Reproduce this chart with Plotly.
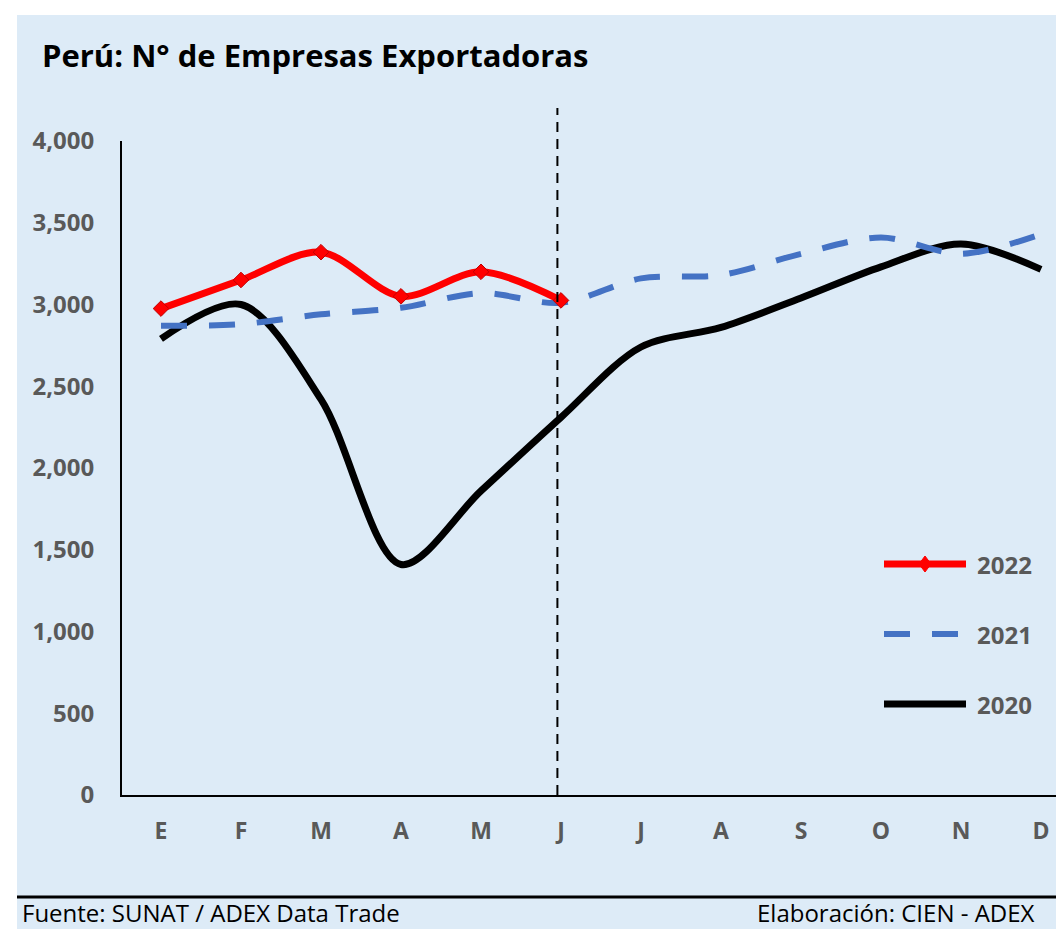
import plotly.graph_objects as go

# Datos: N° de empresas exportadoras por mes
meses = ["E", "F", "M", "A", "M", "J", "J", "A", "S", "O", "N", "D"]
v2022 = [2975, 3150, 3320, 3050, 3200, 3025]
v2021 = [2870, 2880, 2940, 2980, 3070, 3010, 3160, 3180, 3310, 3410, 3310, 3430]
v2020 = [2790, 3000, 2420, 1410, 1860, 2310, 2740, 2860, 3040, 3230, 3370, 3215]

OFF = 8  # margen del body de la página
W, H = 1064 - OFF, 937 - 2 * OFF
AZUL_FONDO = "#DDEBF7"
GRIS = "#595959"
FUENTE = "Open Sans"


def px(x):
    # coordenada de pantalla -> papel
    return (x - OFF) / W


def py(y):
    return 1 - (y - OFF) / H


xi = list(range(len(meses)))

fig = go.Figure()

fig.add_trace(go.Scatter(
    x=xi, y=v2020, mode="lines", name="2020",
    line=dict(color="black", width=7, shape="spline", smoothing=0.9),
))
fig.add_trace(go.Scatter(
    x=xi, y=v2021, mode="lines", name="2021",
    line=dict(color="#4472C4", width=6, dash="26px,22px", shape="spline", smoothing=0.9),
))
fig.add_trace(go.Scatter(
    x=xi[:len(v2022)], y=v2022, mode="lines+markers", name="2022",
    line=dict(color="#FF0000", width=7, shape="spline", smoothing=0.9),
    marker=dict(symbol="diamond", size=12, color="#FF0000", line=dict(color="#C00000", width=1)),
))

# mes de corte (último dato 2022)
corte = len(v2022) - 1 - 0.045

shapes = [
    # fondo celeste
    dict(type="rect", xref="paper", yref="paper", x0=px(17), x1=1.05, y0=-0.05, y1=py(15),
         fillcolor=AZUL_FONDO, line=dict(width=0), layer="below"),
    # línea inferior
    dict(type="line", xref="paper", yref="paper", x0=px(17), x1=1.05, y0=py(897), y1=py(897),
         line=dict(color="black", width=3)),
    # línea vertical de corte
    dict(type="line", xref="x", yref="paper", x0=corte, x1=corte, y0=py(795), y1=py(108),
         line=dict(color="black", width=2, dash="10px,7px")),
]

# leyenda manual
ley_y = {"2022": 564, "2021": 634, "2020": 704}
shapes.append(dict(type="line", xref="paper", yref="paper", x0=px(884), x1=px(966),
                   y0=py(ley_y["2022"]), y1=py(ley_y["2022"]), line=dict(color="#FF0000", width=7)))
shapes.append(dict(type="line", xref="paper", yref="paper", x0=px(884), x1=px(966),
                   y0=py(ley_y["2021"]), y1=py(ley_y["2021"]),
                   line=dict(color="#4472C4", width=6, dash="26px,22px")))
shapes.append(dict(type="line", xref="paper", yref="paper", x0=px(884), x1=px(966),
                   y0=py(ley_y["2020"]), y1=py(ley_y["2020"]), line=dict(color="black", width=7)))
cx, cy = 925, ley_y["2022"]
shapes.append(dict(type="path", xref="paper", yref="paper",
                   path=f"M {px(cx)} {py(cy - 8)} L {px(cx + 6)} {py(cy)} L {px(cx)} {py(cy + 8)} L {px(cx - 6)} {py(cy)} Z",
                   fillcolor="#FF0000", line=dict(color="#FF0000", width=1)))

annotations = [
    dict(text="<b>Perú: N° de Empresas Exportadoras</b>", xref="paper", yref="paper",
         x=px(40), y=py(55), xanchor="left", yanchor="middle", showarrow=False,
         font=dict(family=FUENTE, size=31, color="black")),
    dict(text="Fuente: SUNAT / ADEX Data Trade", xref="paper", yref="paper",
         x=px(22), y=py(912), xanchor="left", yanchor="middle", showarrow=False,
         borderpad=0, borderwidth=0,
         font=dict(family=FUENTE, size=24, color="black")),
    dict(text="Elaboración: CIEN - ADEX", xref="paper", yref="paper",
         x=px(757), y=py(912), xanchor="left", yanchor="middle", showarrow=False,
         borderpad=0, borderwidth=0,
         font=dict(family=FUENTE, size=24, color="black")),
]
for anio, yy in ley_y.items():
    annotations.append(dict(text=f"<b>{anio}</b>", xref="paper", yref="paper",
                            x=px(975), y=py(yy), xanchor="left", yanchor="middle", showarrow=False,
                            font=dict(family=FUENTE, size=24, color=GRIS)))

fig.update_layout(
    width=W, height=H,
    margin=dict(l=0, r=0, t=0, b=0, autoexpand=False),
    paper_bgcolor="white",
    plot_bgcolor="rgba(0,0,0,0)",
    font=dict(family=FUENTE, color=GRIS),
    showlegend=False,
    shapes=shapes,
    annotations=annotations,
    xaxis=dict(
        domain=[px(122), px(1064)],
        range=[-0.4875, 11.2875],
        tickmode="array", tickvals=xi, ticktext=meses,
        showgrid=False, zeroline=False, automargin=False,
        showline=True, linecolor="black", linewidth=2,
        ticks="", ticklabelstandoff=14,
        tickfont=dict(family=FUENTE, size=23, color=GRIS, weight="bold"),
    ),
    yaxis=dict(
        domain=[py(795), py(141)],
        range=[0, 4000],
        tickmode="array", tickvals=[0, 500, 1000, 1500, 2000, 2500, 3000, 3500, 4000],
        tickformat=",d",
        showgrid=False, zeroline=False, automargin=False,
        showline=True, linecolor="black", linewidth=2,
        ticks="", ticklabelstandoff=21,
        tickfont=dict(family=FUENTE, size=24, color=GRIS, weight="bold"),
    ),
)

fig.write_html("out.html")
